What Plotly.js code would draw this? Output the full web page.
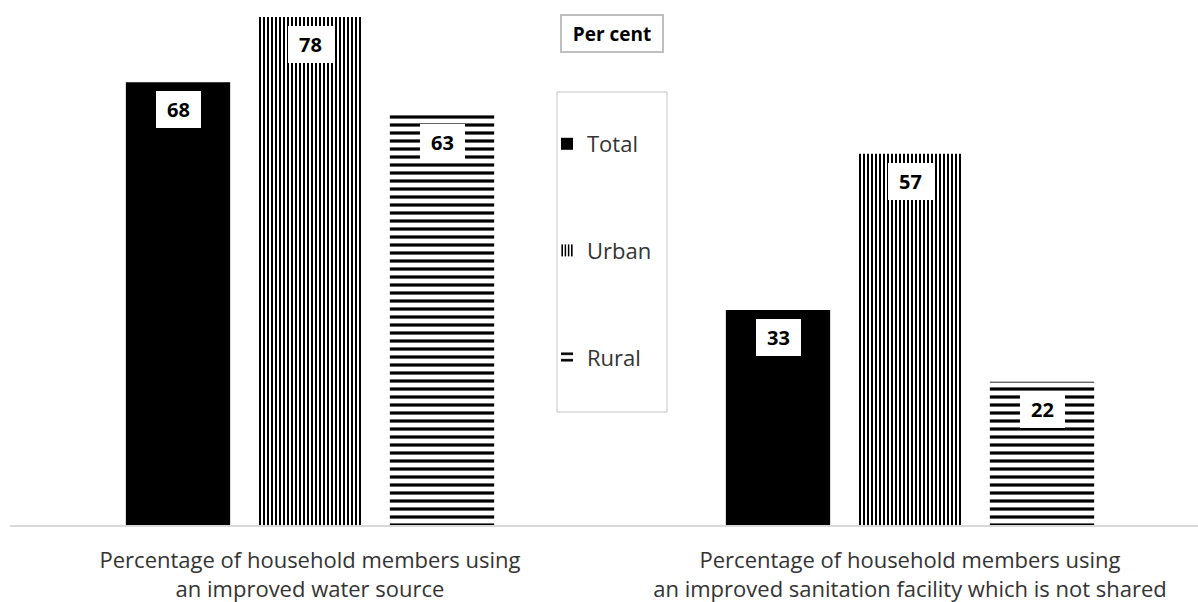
<!DOCTYPE html>
<html>
<head>
<meta charset="utf-8">
<script src="https://cdn.plot.ly/plotly-3.0.1.min.js"></script>
<style>html,body{margin:0;padding:0;background:#fff;}#chart{width:1198px;height:602px;}</style>
</head>
<body>
<div id="chart"></div>
<script>
const categories = [
  "Percentage of household members using<br>an improved water source",
  "Percentage of household members using<br>an improved sanitation facility which is not shared"
];
const seriesNames = ["Total", "Urban", "Rural"];
const totalValues = [68, 33];
const urbanValues = [78, 57];
const ruralValues = [63, 22];
const legendTitle = "Per cent";

const FONT = "Open Sans, Noto Sans, sans-serif";
const allValues = [totalValues, urbanValues, ruralValues];
const patterns = [
  {shape: ""},
  {shape: "|", size: 4, solidity: 0.5, fgcolor: "#000", bgcolor: "#fff", fillmode: "replace"},
  {shape: "-", size: 8, solidity: 0.4, fgcolor: "#000", bgcolor: "#fff", fillmode: "replace"}
];
const traces = seriesNames.map((name, i) => ({
  type: "bar",
  name: name,
  x: categories,
  y: allValues[i],
  marker: {color: i === 0 ? "#000" : "#fff", pattern: patterns[i], line: {width: 0}},
  legendgroup: name,
  hoverinfo: "none"
}));

const offsets = [-0.22, 0, 0.22];
const annotations = [];
allValues.forEach((vals, i) => {
  vals.forEach((v, j) => {
    annotations.push({
      x: j + offsets[i], xref: "x", y: v, yref: "y",
      text: "<b>" + v + "</b>", showarrow: false,
      yanchor: "top", yshift: -9,
      width: 42, height: 34,
      bgcolor: "#fff", borderpad: 1.5, borderwidth: 0,
      font: {family: FONT, size: 20, color: "#000"}
    });
  });
});
const px = v => (v - 10) / 1188;
const py = v => 1 - (v - 17) / 508;
annotations.push({
  x: px(612), xref: "paper", y: py(33.5), yref: "paper", yanchor: "middle",
  text: "<b>" + legendTitle + "</b>", showarrow: false,
  width: 96, height: 31,
  bgcolor: "#fff", bordercolor: "#bfbfbf", borderwidth: 2, borderpad: 2,
  font: {family: FONT, size: 19, color: "#000"}
});

const layout = {
  width: 1198, height: 602,
  margin: {l: 10, r: 0, t: 17, b: 77},
  paper_bgcolor: "#fff", plot_bgcolor: "#fff",
  barmode: "group", bargap: 0.34, bargroupgap: 0.21,
  showlegend: true,
  legend: {
    x: px(547), xanchor: "left", y: py(123), yanchor: "top",
    bgcolor: "rgba(0,0,0,0)", borderwidth: 0,
    tracegroupgap: 75, itemwidth: 30,
    font: {family: FONT, size: 22, color: "#333"}
  },
  xaxis: {
    type: "category", range: [-0.5, -0.5 + 1188 / 600],
    showline: true, linecolor: "#d9d9d9", linewidth: 2,
    ticks: "outside", ticklen: 15, tickcolor: "rgba(0,0,0,0)",
    showgrid: false, zeroline: false,
    tickfont: {family: FONT, size: 22, color: "#333"}
  },
  yaxis: {range: [0, 78], visible: false, showgrid: false, zeroline: false},
  shapes: [{
    type: "rect", xref: "paper", yref: "paper",
    x0: px(557), x1: px(667), y0: py(92), y1: py(412),
    line: {color: "#d9d9d9", width: 1.5}, fillcolor: "rgba(0,0,0,0)", layer: "below"
  }],
  annotations: annotations
};
Plotly.newPlot("chart", traces, layout, {displayModeBar: false, staticPlot: true});
</script>
</body>
</html>
